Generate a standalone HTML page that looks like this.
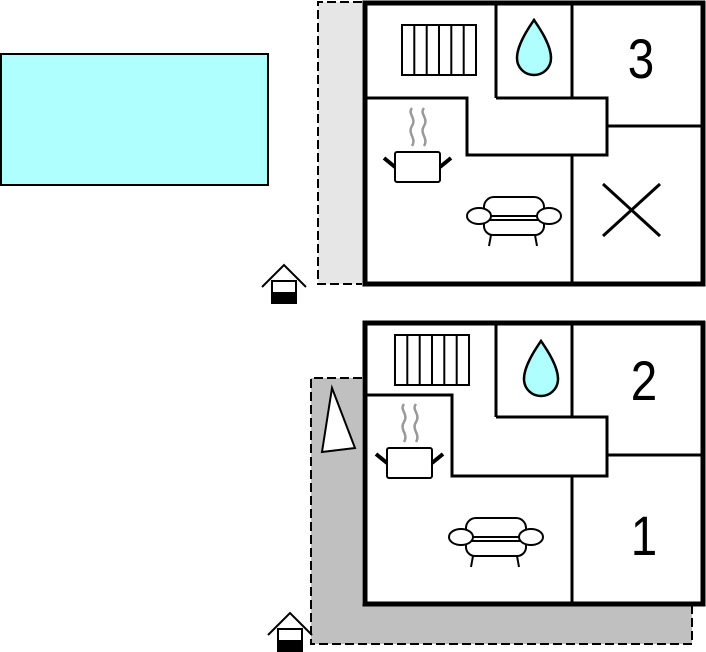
<!DOCTYPE html>
<html><head><meta charset="utf-8"><style>
html,body{margin:0;padding:0;background:#fff;width:706px;height:652px;overflow:hidden}
svg{display:block}
text{font-family:"Liberation Sans",sans-serif}
</style></head><body>
<svg width="706" height="652" viewBox="0 0 706 652" xmlns="http://www.w3.org/2000/svg">
<defs>
<g id="rad" fill="none" stroke="#000" stroke-width="2">
<rect x="0" y="0" width="74" height="50" fill="#fff"/>
<line x1="12.3" y1="0" x2="12.3" y2="50"/><line x1="24.7" y1="0" x2="24.7" y2="50"/><line x1="37" y1="0" x2="37" y2="50"/><line x1="49.3" y1="0" x2="49.3" y2="50"/><line x1="61.7" y1="0" x2="61.7" y2="50"/>
</g>
<path id="drop" d="M0,0 C4,6 17,24 17,38 C17,48 9,55 0,55 C-9,55 -17,48 -17,38 C-17,24 -4,6 0,0Z" fill="#b0ffff" stroke="#000" stroke-width="2.5"/>
<g id="pot">
<path d="M412,108 c-5,6 5,10 0,18 c-5,8 5,12 0,20 M424,108 c-5,6 5,10 0,18 c-5,8 5,12 0,20" fill="none" stroke="#999" stroke-width="2.5"/>
<rect x="395" y="152" width="45" height="30" rx="2" fill="#fff" stroke="#000" stroke-width="2"/>
<line x1="384" y1="158" x2="395" y2="167" stroke="#000" stroke-width="4"/>
<line x1="451" y1="158" x2="440" y2="167" stroke="#000" stroke-width="4"/>
</g>
<g id="sofa" fill="#fff" stroke="#000" stroke-width="2">
<rect x="-30" y="-19" width="60" height="24" rx="10"/>
<rect x="-30" y="0" width="60" height="19" rx="9"/>
<line x1="-24" y1="4" x2="24" y2="4"/>
<ellipse cx="-35" cy="0" rx="12" ry="8"/>
<ellipse cx="35" cy="0" rx="12" ry="8"/>
<line x1="-23" y1="19" x2="-25" y2="30"/><line x1="21" y1="19" x2="23" y2="30"/>
</g>
<g id="house">
<polyline points="-22,22 0,0 22,22" fill="none" stroke="#000" stroke-width="2"/>
<rect x="-12" y="16" width="24" height="22" fill="#fff" stroke="#000" stroke-width="2"/>
<rect x="-12" y="27" width="24" height="11" fill="#000"/>
</g>
</defs>

<rect x="1" y="54" width="267" height="131" fill="#b0ffff" stroke="#000" stroke-width="2"/>

<rect x="318" y="2" width="44" height="282" fill="#e6e6e6" stroke="none"/>
<polyline points="362,2 318,2 318,284 362,284" fill="none" stroke="#000" stroke-width="2" stroke-dasharray="9,4"/>
<use href="#house" x="284" y="265"/>

<rect x="365" y="3" width="338" height="281" fill="#fff" stroke="#000" stroke-width="5"/>
<g fill="none" stroke="#000" stroke-width="3">
<line x1="496" y1="3" x2="496" y2="98"/>
<line x1="572" y1="3" x2="572" y2="98"/>
<polyline points="365,98 467,98 467,155 607,155 607,98 496,98"/>
<line x1="607" y1="126" x2="703" y2="126"/>
<line x1="572" y1="155" x2="572" y2="284"/>
<line x1="603" y1="184" x2="660" y2="236"/>
<line x1="660" y1="184" x2="603" y2="236"/>
</g>
<use href="#rad" x="402" y="25"/>
<use href="#drop" x="534" y="20"/>
<text x="641" y="78" font-size="56" text-anchor="middle" transform="translate(641 0) scale(0.85 1) translate(-641 0)">3</text>
<use href="#pot"/>
<use href="#sofa" x="514" y="216"/>

<path d="M311,378 L362,378 L362,604 L692,604 L692,644 L311,644Z" fill="#c0c0c0"/>
<polyline points="362,378 311,378 311,644 692,644 692,604" fill="none" stroke="#000" stroke-width="2" stroke-dasharray="9,4"/>
<use href="#house" x="290" y="613"/>
<polygon points="332,388 355,448 322,452" fill="#fff" stroke="#000" stroke-width="2"/>

<rect x="365" y="323" width="338" height="281" fill="#fff" stroke="#000" stroke-width="5"/>
<g fill="none" stroke="#000" stroke-width="3">
<line x1="496" y1="323" x2="496" y2="417"/>
<line x1="572" y1="323" x2="572" y2="417"/>
<polyline points="365,395 452,395 452,476 607,476 607,417 496,417"/>
<line x1="607" y1="455" x2="703" y2="455"/>
<line x1="572" y1="476" x2="572" y2="604"/>
</g>
<use href="#rad" x="395" y="335"/>
<use href="#drop" x="541" y="341"/>
<text x="644" y="400" font-size="56" text-anchor="middle" transform="translate(644 0) scale(0.85 1) translate(-644 0)">2</text>
<text x="644" y="555" font-size="56" text-anchor="middle" transform="translate(644 0) scale(0.85 1) translate(-644 0)">1</text>
<use href="#pot" x="-8" y="296"/>
<use href="#sofa" x="496" y="537"/>
</svg>
</body></html>
